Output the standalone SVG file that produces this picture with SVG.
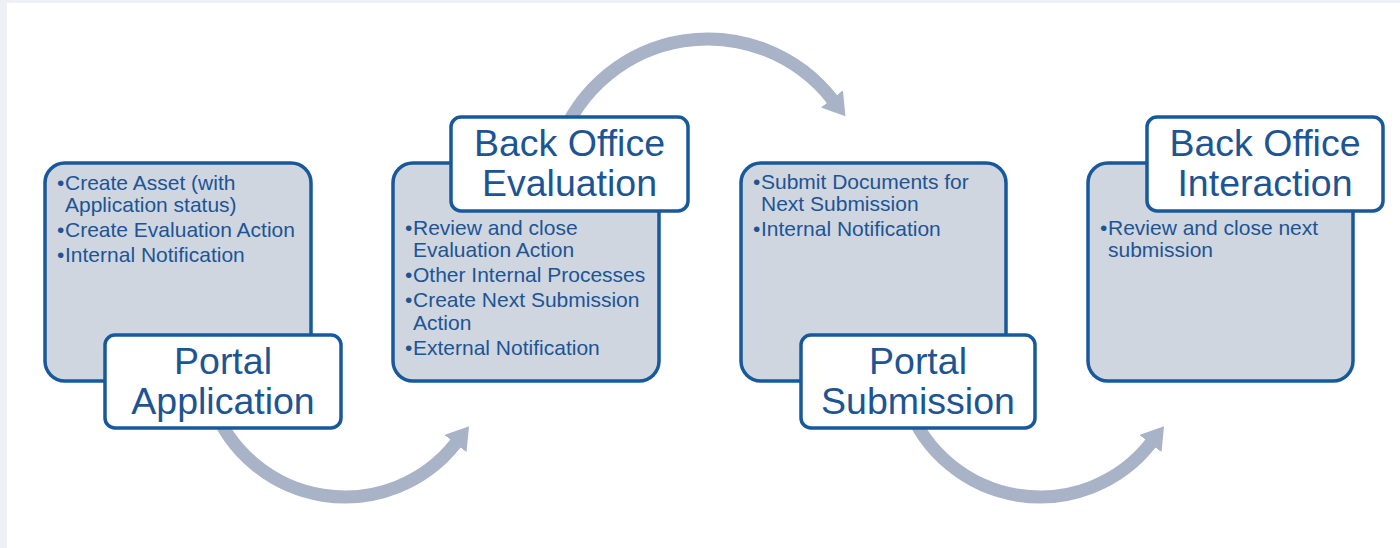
<svg xmlns="http://www.w3.org/2000/svg" width="1400" height="548" viewBox="0 0 1400 548">
  <style>
    .content { fill: #cfd6e0; stroke: #17599a; stroke-width: 3.5; }
    .label { fill: #ffffff; stroke: #17599a; stroke-width: 3.5; }
    .bt { font-family: "Liberation Sans", Arial, sans-serif; font-size: 21px; fill: #1d5494; }
    .lt { font-family: "Liberation Sans", Arial, sans-serif; font-size: 37.5px; fill: #1d5494; text-anchor: middle; }
    .arc { fill: none; stroke: #a9b3c8; stroke-width: 13; marker-end: url(#head); }
  </style>
  <defs>
    <marker id="head" markerUnits="userSpaceOnUse" markerWidth="22" markerHeight="28" viewBox="0 0 22 28" refX="1" refY="14" orient="auto">
      <path d="M0,0 L22,14 L0,28 z" fill="#a9b3c8"/>
    </marker>
  </defs>
  <rect x="0" y="0" width="1400" height="548" fill="#eff0f5"/>
  <rect x="7" y="3" width="1393" height="545" fill="#ffffff"/>

  <g id="connectors">
    <path class="arc" d="M212.5,404.2 A141,141 0 0 0 456.1,442.8"/>
    <path class="arc" d="M559.5,143 A158,158 0 0 1 832.5,99.7"/>
    <path class="arc" d="M907.5,404.2 A141,141 0 0 0 1151.1,442.8"/>
  </g>

  <g id="portal-application">
    <rect class="content" x="45" y="163" width="266" height="218" rx="20"/>
    <text class="bt" x="57" y="190">•</text>
    <text class="bt" x="65" y="190">Create Asset (with</text>
    <text class="bt" x="65" y="212">Application status)</text>
    <text class="bt" x="57" y="237">•</text>
    <text class="bt" x="65" y="237">Create Evaluation Action</text>
    <text class="bt" x="57" y="262">•</text>
    <text class="bt" x="65" y="262">Internal Notification</text>
    <rect class="label" x="105" y="335" width="236" height="93" rx="10"/>
    <text class="lt" x="223" y="374">Portal</text>
    <text class="lt" x="223" y="414">Application</text>
  </g>

  <g id="back-office-evaluation">
    <rect class="content" x="393" y="163" width="266" height="218" rx="20"/>
    <text class="bt" x="405" y="235">•</text>
    <text class="bt" x="413" y="235">Review and close</text>
    <text class="bt" x="413" y="257">Evaluation Action</text>
    <text class="bt" x="405" y="282">•</text>
    <text class="bt" x="413" y="282">Other Internal Processes</text>
    <text class="bt" x="405" y="307">•</text>
    <text class="bt" x="413" y="307">Create Next Submission</text>
    <text class="bt" x="413" y="330">Action</text>
    <text class="bt" x="405" y="355">•</text>
    <text class="bt" x="413" y="355">External Notification</text>
    <rect class="label" x="451" y="117" width="237" height="94" rx="10"/>
    <text class="lt" x="569.5" y="156">Back Office</text>
    <text class="lt" x="569.5" y="196">Evaluation</text>
  </g>

  <g id="portal-submission">
    <rect class="content" x="741" y="163" width="265" height="218" rx="20"/>
    <text class="bt" x="753" y="189">•</text>
    <text class="bt" x="761" y="189">Submit Documents for</text>
    <text class="bt" x="761" y="211">Next Submission</text>
    <text class="bt" x="753" y="236">•</text>
    <text class="bt" x="761" y="236">Internal Notification</text>
    <rect class="label" x="801" y="335" width="234" height="93" rx="10"/>
    <text class="lt" x="918" y="374">Portal</text>
    <text class="lt" x="918" y="414">Submission</text>
  </g>

  <g id="back-office-interaction">
    <rect class="content" x="1088" y="163" width="265" height="218" rx="20"/>
    <text class="bt" x="1100" y="235">•</text>
    <text class="bt" x="1108" y="235">Review and close next</text>
    <text class="bt" x="1108" y="257">submission</text>
    <rect class="label" x="1147" y="117" width="236" height="94" rx="10"/>
    <text class="lt" x="1265" y="156">Back Office</text>
    <text class="lt" x="1265" y="196">Interaction</text>
  </g>
</svg>
